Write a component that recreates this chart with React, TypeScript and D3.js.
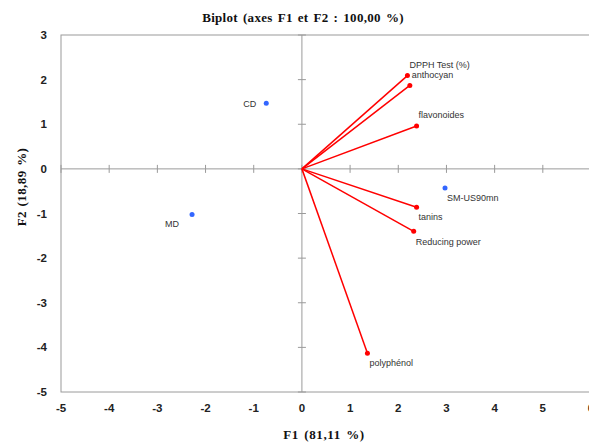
import React from "react";
import * as d3 from "d3";

const obsNames = ["CD", "MD", "SM-US90mn"];
const obsF1 = [-0.74, -2.28, 2.97];
const obsF2 = [1.47, -1.02, -0.43];
const obsLabelPos = ["left", "belowLeft", "below"];

const varNames = ["DPPH Test (%)", "anthocyan", "flavonoides", "tanins", "Reducing power", "polyphénol"];
const varF1 = [2.19, 2.24, 2.38, 2.38, 2.32, 1.36];
const varF2 = [2.09, 1.87, 0.96, -0.86, -1.40, -4.13];
const varLabelPos = ["above", "above", "above", "below", "below", "below"];

const xTicks = [-5, -4, -3, -2, -1, 0, 1, 2, 3, 4, 5, 6];
const yTicks = [3, 2, 1, 0, -1, -2, -3, -4, -5];

const title = "Biplot (axes F1 et F2 : 100,00 %)";
const xTitle = "F1 (81,11 %)";
const yTitle = "F2 (18,89 %)";

const W = 589, H = 442;
const L = 61, R = 591, T = 35, B = 392;

function labelXY(pos: string, px: number, py: number) {
  switch (pos) {
    case "above": return { x: px + 2, y: py - 11, anchor: "start" };
    case "below": return { x: px + 2, y: py + 10, anchor: "start" };
    case "left": return { x: px - 10, y: py + 0.5, anchor: "end" };
    case "belowLeft": return { x: px - 13, y: py + 9.5, anchor: "end" };
    default: return { x: px, y: py, anchor: "start" };
  }
}

export default function App() {
  const x = d3.scaleLinear().domain([-5, 6]).range([L, R]);
  const y = d3.scaleLinear().domain([-5, 3]).range([B, T]);
  const gray = "#9a9a9a";
  const labelFont = "'Liberation Sans', Arial, sans-serif";
  const serif = "'Liberation Serif', 'Times New Roman', serif";
  return (
    <svg width={W} height={H} style={{ position: "absolute", left: 0, top: 0, background: "#fff" }}
      fontFamily={labelFont}>
      <rect x={0} y={0} width={W} height={H} fill="#fff" />
      <text x={303} y={22} textAnchor="middle" fontFamily={serif}
        fontWeight="bold" fontSize={13} letterSpacing={0.3} wordSpacing={1.5} fill="#111">{title}</text>
      <rect x={L} y={T} width={R - L} height={B - T} fill="none" stroke={gray} strokeWidth={1} />
      <line x1={L} x2={R} y1={y(0)} y2={y(0)} stroke={gray} />
      <line x1={x(0)} x2={x(0)} y1={T} y2={B} stroke={gray} />
      {xTicks.map((t) => (
        <line key={"xt" + t} x1={x(t)} x2={x(t)} y1={y(0) - 4} y2={y(0) + 4} stroke={gray} />
      ))}
      {yTicks.map((t) => (
        <line key={"yt" + t} x1={x(0) - 4} x2={x(0) + 4} y1={y(t)} y2={y(t)} stroke={gray} />
      ))}
      {xTicks.map((t) => (
        <text key={"xl" + t} x={x(t)} y={412} textAnchor="middle" fontWeight="bold" fontSize={11.5} fill="#222">{t}</text>
      ))}
      {yTicks.map((t) => (
        <text key={"yl" + t} x={47} y={y(t) + 4} textAnchor="end" fontWeight="bold" fontSize={11.5} fill="#222">{t}</text>
      ))}
      <text x={324} y={438.5} textAnchor="middle" fontFamily={serif}
        fontWeight="bold" fontSize={13} letterSpacing={0.6} wordSpacing={1.5} fill="#111">{xTitle}</text>
      <text transform={`translate(26, 187) rotate(-90)`} textAnchor="middle"
        fontFamily={serif} fontWeight="bold" fontSize={13} letterSpacing={0.4} wordSpacing={1} fill="#111">{yTitle}</text>
      {varNames.map((n, i) => (
        <g key={"v" + i}>
          <line x1={x(0)} y1={y(0)} x2={x(varF1[i])} y2={y(varF2[i])} stroke="#ff0000" strokeWidth={1.5} />
          <circle cx={x(varF1[i])} cy={y(varF2[i])} r={2.5} fill="#ff0000" />
        </g>
      ))}
      {varNames.map((n, i) => {
        const p = labelXY(varLabelPos[i], x(varF1[i]), y(varF2[i]));
        return <text key={"vl" + i} x={p.x} y={p.y} dy="0.35em" textAnchor={p.anchor} fontSize={9} fill="#333">{n}</text>;
      })}
      {obsNames.map((n, i) => (
        <circle key={"o" + i} cx={x(obsF1[i])} cy={y(obsF2[i])} r={2.5} fill="#3366ff" />
      ))}
      {obsNames.map((n, i) => {
        const p = labelXY(obsLabelPos[i], x(obsF1[i]), y(obsF2[i]));
        return <text key={"ol" + i} x={p.x} y={p.y} dy="0.35em" textAnchor={p.anchor} fontSize={9} fill="#333">{n}</text>;
      })}
    </svg>
  );
}
